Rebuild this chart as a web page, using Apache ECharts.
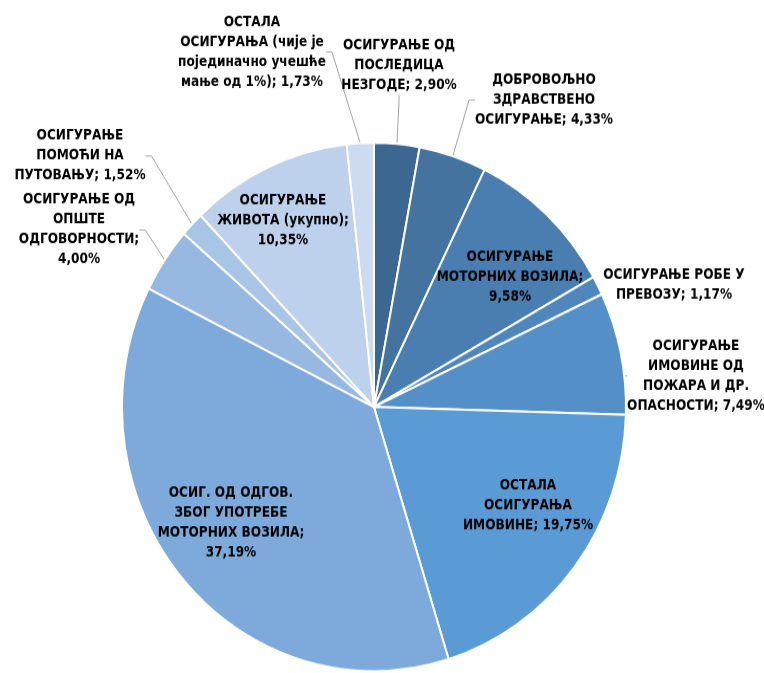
<!DOCTYPE html>
<html>
<head>
<meta charset="utf-8">
<script src="https://cdn.jsdelivr.net/npm/echarts@6/dist/echarts.min.js"></script>
<style>
  html, body { margin: 0; padding: 0; background: #fff; overflow: hidden; }
  #wrap { width: 764px; height: 673px; overflow: hidden; }
  /* the chart is drawn slightly taller than wide */
  #chart { width: 764px; height: 642px; transform: scaleY(1.048); transform-origin: 0 0; }
</style>
</head>
<body>
<div id="wrap"><div id="chart"></div></div>
<script>
// Premium structure by line of insurance (%), clockwise from 12 o'clock
const categories = [
  'ОСИГУРАЊЕ ОД\nПОСЛЕДИЦА\nНЕЗГОДЕ',
  'ДОБРОВОЉНО\nЗДРАВСТВЕНО\nОСИГУРАЊЕ',
  'ОСИГУРАЊЕ\nМОТОРНИХ ВОЗИЛА',
  'ОСИГУРАЊЕ РОБЕ У\nПРЕВОЗУ',
  'ОСИГУРАЊЕ\nИМОВИНЕ ОД\nПОЖАРА И ДР.\nОПАСНОСТИ',
  'ОСТАЛА\nОСИГУРАЊА\nИМОВИНЕ',
  'ОСИГ. ОД ОДГОВ.\nЗБОГ УПОТРЕБЕ\nМОТОРНИХ ВОЗИЛА',
  'ОСИГУРАЊЕ ОД\nОПШТЕ\nОДГОВОРНОСТИ',
  'ОСИГУРАЊЕ\nПОМОЋИ НА\nПУТОВАЊУ',
  'ОСИГУРАЊЕ\nЖИВОТА (укупно)',
  'ОСТАЛА\nОСИГУРАЊА (чије је\nпојединачно учешће\nмање од 1%)'
];
const shares = [2.90, 4.33, 9.58, 1.17, 7.49, 19.75, 37.19, 4.00, 1.52, 10.35, 1.73];
// whether the percentage goes on its own line
const valueOnNewLine = [false, false, true, false, false, false, true, true, false, true, false];
// whether the label sits inside its slice
const labelInside = [false, false, true, false, false, true, true, false, false, true, false];

const sliceColors = ['#3b6791', '#44739f', '#4a7eb0', '#4f87bd', '#548fc7', '#5b9bd5',
                     '#7eaadb', '#97b8e1', '#a9c5e6', '#bdd1ec', '#cddbf0'];

// label centres in page pixels
const labelSpots = [
  [399, 65], [544, 100], [510, 277], [674, 285], [696, 376], [528, 506],
  [231, 523], [79, 230], [80, 156], [283, 221], [252, 52]
];

const STRETCH = 1.048;
const FONT = "'Liberation Sans Narrow', 'Arial Narrow', 'DejaVu Sans Condensed', sans-serif";

function fmt(v) { return v.toFixed(2).replace('.', ',') + '%'; }

const chart = echarts.init(document.getElementById('chart'), null, { renderer: 'canvas' });

const data = categories.map((name, i) => ({
  name: name,
  value: shares[i],
  itemStyle: { color: sliceColors[i] },
  labelLine: { show: !labelInside[i] && i !== 3 }
}));

chart.setOption({
  animation: false,
  backgroundColor: '#ffffff',
  series: [{
    type: 'pie',
    center: [374, 407 / STRETCH],
    radius: 252,
    startAngle: 90,
    clockwise: true,
    data: data,
    itemStyle: { borderColor: '#ffffff', borderWidth: 2 },
    label: {
      show: true,
      position: 'outside',
      color: '#000000',
      fontFamily: FONT,
      fontWeight: 'bold',
      fontSize: 13.5,
      lineHeight: 19,
      align: 'center',
      overflow: 'none',
      formatter: p => p.name + (valueOnNewLine[p.dataIndex] ? ';\n' : '; ') + fmt(p.value)
    },
    labelLine: {
      show: true,
      length: 10,
      length2: 6,
      lineStyle: { color: '#a6a6a6', width: 1 }
    },
    labelLayout: p => {
      const s = labelSpots[p.dataIndex];
      return { x: s[0], y: s[1] / STRETCH, align: 'center', verticalAlign: 'middle', hideOverlap: false };
    },
    emphasis: { disabled: true }
  }]
});
</script>
</body>
</html>
